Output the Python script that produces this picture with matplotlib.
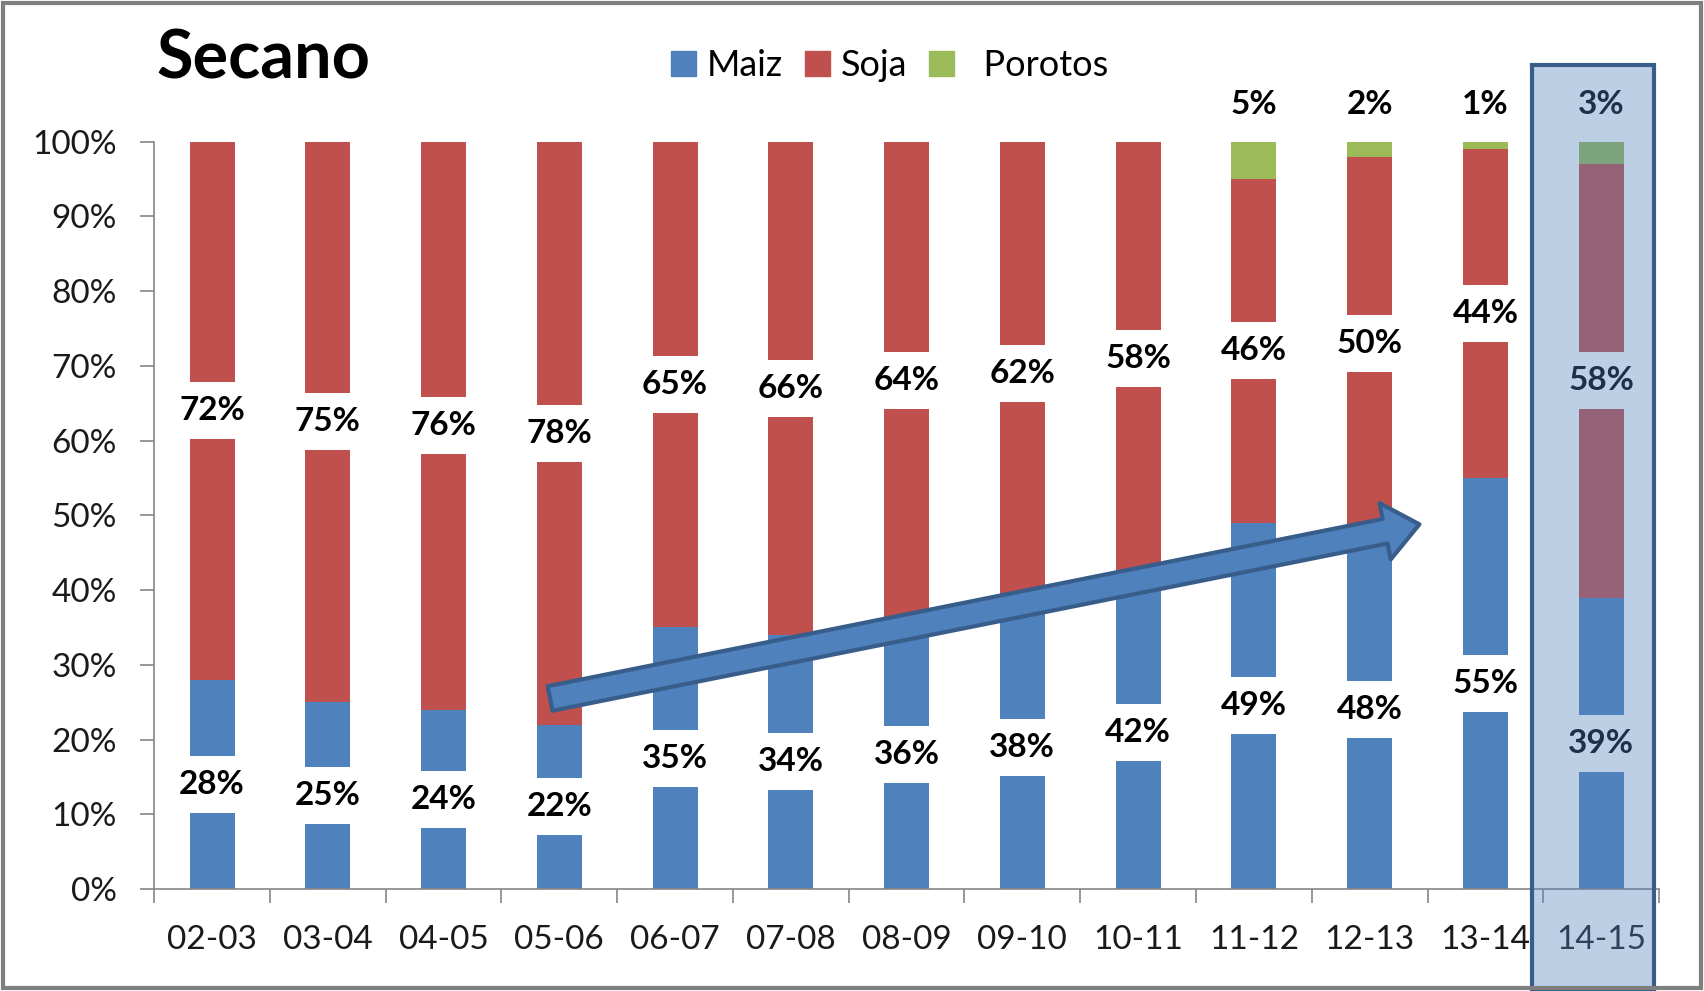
import matplotlib.pyplot as plt
import numpy as np
from matplotlib.patches import Patch, Rectangle, FancyArrowPatch

plt.rcParams['font.family'] = ['Lato', 'DejaVu Sans']

seasons = ['02-03', '03-04', '04-05', '05-06', '06-07', '07-08', '08-09',
           '09-10', '10-11', '11-12', '12-13', '13-14', '14-15']
maiz = [28, 25, 24, 22, 35, 34, 36, 38, 42, 49, 48, 55, 39]
soja = [72, 75, 76, 78, 65, 66, 64, 62, 58, 46, 50, 44, 58]
porotos = [0, 0, 0, 0, 0, 0, 0, 0, 0, 5, 2, 1, 3]

BLUE = '#4F81BD'
RED = '#C0504D'
GREEN = '#9BBB59'
DARK = '#385D8A'

fig = plt.figure(figsize=(17.04, 9.91), dpi=100)
ax = fig.add_axes([0.0905, 0.1029, 0.8831, 0.7541])

x = np.arange(len(seasons))
w = 0.39
maiz_a = np.array(maiz)
soja_a = np.array(soja)
por_a = np.array(porotos)
ax.bar(x, maiz_a, w, color=BLUE, zorder=2)
ax.bar(x, soja_a, w, bottom=maiz_a, color=RED, zorder=2)
ax.bar(x, por_a, w, bottom=maiz_a + soja_a, color=GREEN, zorder=2)

# data labels with white boxes (they cut the bars like in the original)
box = dict(boxstyle='square,pad=0.42', fc='white', ec='none')
for i in range(len(seasons)):
    ax.text(x[i], maiz[i] / 2, '{}%'.format(maiz[i]), ha='center', va='center',
            fontsize=24, fontweight='bold', bbox=box, zorder=4)
    ax.text(x[i], maiz[i] + soja[i] / 2, '{}%'.format(soja[i]), ha='center',
            va='center', fontsize=24, fontweight='bold', bbox=box, zorder=4)
    if porotos[i] > 0:
        ax.text(x[i], 105, '{}%'.format(porotos[i]), ha='center', va='center',
                fontsize=24, fontweight='bold', zorder=4, clip_on=False)

# trend arrow
arrow = FancyArrowPatch((2.92, 25.5), (10.43, 48.8),
                        arrowstyle='simple,head_width=2.3,head_length=1.4,tail_width=1',
                        mutation_scale=18, fc=BLUE, ec=DARK, lw=3,
                        shrinkA=0, shrinkB=0, zorder=3)
ax.add_patch(arrow)

ax.set_xlim(-0.5, 12.5)
ax.set_ylim(0, 100)
ax.set_yticks(np.arange(0, 101, 10))
ax.set_yticklabels(['{}%'.format(v) for v in range(0, 101, 10)])
ax.set_xticks(x)
ax.set_xticklabels(seasons)
ax.set_xticks(np.arange(-0.5, 12.6, 1), minor=True)
ax.tick_params(axis='x', which='major', length=0, labelsize=24, pad=26,
               labelcolor='#1a1a1a')
ax.tick_params(axis='x', which='minor', length=10, width=1.2, color='#868686')
ax.tick_params(axis='y', length=10, width=1.2, color='#868686', labelsize=24,
               pad=17, labelcolor='#1a1a1a')
for s in ['top', 'right']:
    ax.spines[s].set_visible(False)
for s in ['left', 'bottom']:
    ax.spines[s].set_color('#868686')
    ax.spines[s].set_linewidth(1.2)

# highlight for the last season
hl = Rectangle((11.4, -13.5), 1.06, 123.7, fc=BLUE, ec='none', alpha=0.38,
               zorder=10, clip_on=False)
ax.add_patch(hl)
hl_edge = Rectangle((11.4, -13.5), 1.06, 123.7, fc='none', ec=DARK, lw=3,
                    zorder=11, clip_on=False)
ax.add_patch(hl_edge)

fig.text(0.092, 0.94, 'Secano', fontsize=48, fontweight='bold', va='center')

handles = [Patch(color=BLUE), Patch(color=RED), Patch(color=GREEN)]
fig.legend(handles, ['Maiz', 'Soja', '  Porotos'], loc='center left',
           bbox_to_anchor=(0.383, 0.934), ncol=3, frameon=False, fontsize=26,
           handlelength=0.7, handleheight=0.7, handletextpad=0.3,
           columnspacing=0.6, borderpad=0)

fig.patches.append(Rectangle((0.002, 0.003), 0.996, 0.994, transform=fig.transFigure,
                             fill=False, ec='#7f7f7f', lw=3, zorder=0))

fig.savefig('out.png', dpi=100)
